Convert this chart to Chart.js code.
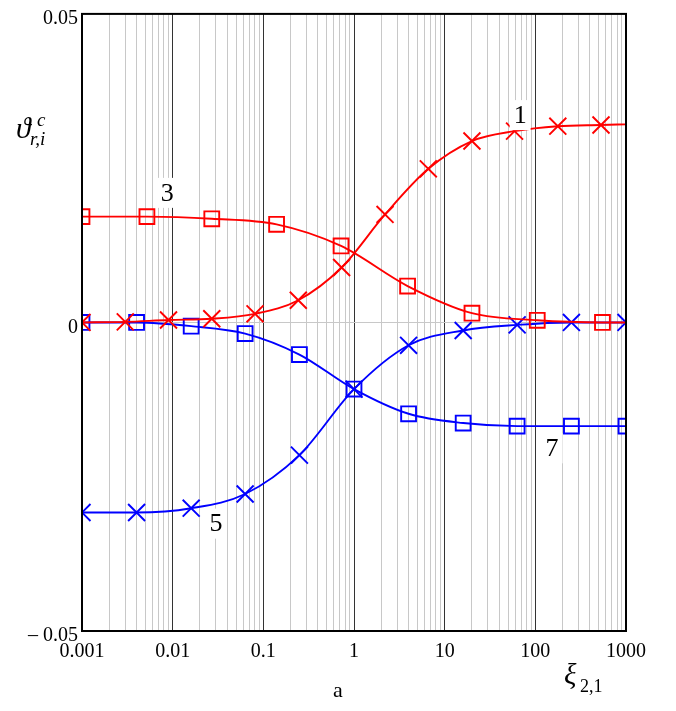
<!DOCTYPE html>
<html><head><meta charset="utf-8">
<script src="https://cdn.jsdelivr.net/npm/chart.js@4.4.0/dist/chart.umd.min.js"></script>
<style>html,body{margin:0;padding:0;background:#fff;}#wrap{width:676px;height:711px;position:relative;}</style>
</head><body><div id="wrap"><canvas id="c" width="676" height="711"></canvas></div>
<script>
// ---- data ----
const xTickValues = [0.001, 0.01, 0.1, 1, 10, 100, 1000];
const xTickLabels = ['0.001', '0.01', '0.1', '1', '10', '100', '1000'];
const yTickValues = [-0.05, 0, 0.05];
const yTickLabels = ['\u2013 0.05', '0', '0.05'];

// curve 1 (red, crosses)
const c1X = [0.001, 0.003, 0.009, 0.027, 0.081, 0.243, 0.73, 2.2, 6.6, 20, 59, 177, 530, 1000];
const c1Y = [0, 0.0001, 0.0004, 0.0006, 0.0014, 0.0036, 0.0089, 0.0175, 0.0249, 0.0294, 0.0310, 0.0318, 0.0320, 0.0321];
// curve 3 (red, squares)
const c3X = [0.001, 0.0052, 0.027, 0.14, 0.72, 3.9, 20, 105, 550, 1000];
const c3Y = [0.01715, 0.01715, 0.0168, 0.0159, 0.0124, 0.0059, 0.0015, 0.00035, 0, 0];
// curve 5 (blue, crosses)
const c5X = [0.001, 0.004, 0.016, 0.063, 0.25, 1, 4, 16, 63, 250, 1000];
const c5Y = [-0.0308, -0.0308, -0.0301, -0.0278, -0.0215, -0.0108, -0.0037, -0.0013, -0.0004, 0, 0];
// curve 7 (blue, squares)
const c7X = [0.001, 0.004, 0.016, 0.063, 0.25, 1, 4, 16, 63, 250, 1000];
const c7Y = [0, 0, -0.0006, -0.0018, -0.0052, -0.0108, -0.0148, -0.0163, -0.0168, -0.0168, -0.0168];

const curveLabelTexts = ['1', '3', '5', '7'];
const curveLabelX = [68, 0.0087, 0.030, 153];
const curveLabelY = [0.0336, 0.0210, -0.0326, -0.0204];

// ---- build ----
const pts = (xs, ys) => xs.map((x, i) => ({x: x, y: ys[i]}));
const RED = '#ff0000', BLUE = '#0000ff';
function ds(xs, ys, color, style, r, lastUnmarked) {
  return {
    data: pts(xs, ys),
    borderColor: color,
    borderWidth: 1.9,
    pointStyle: style,
    pointRadius: ctx => (lastUnmarked && ctx.dataIndex === xs.length - 1) ? 0 : r,
    pointHoverRadius: 0,
    pointBorderColor: color,
    pointBackgroundColor: 'rgba(0,0,0,0)',
    pointBorderWidth: 1.9,
    cubicInterpolationMode: 'monotone',
    fill: false
  };
}
const near = (a, b) => Math.abs(a - b) <= Math.abs(b) * 1e-6 + 1e-12;

const framePlugin = {
  id: 'frame',
  afterDatasetsDraw(chart) {
    const {ctx, chartArea: a, scales} = chart;
    ctx.save();
    // curve labels
    ctx.font = '26px "Liberation Serif"';
    ctx.textAlign = 'center';
    ctx.textBaseline = 'middle';
    curveLabelTexts.forEach((t, i) => {
      const px = scales.x.getPixelForValue(curveLabelX[i]);
      const py = scales.y.getPixelForValue(curveLabelY[i]);
      const w = ctx.measureText(t).width + 8;
      ctx.fillStyle = '#fff';
      ctx.fillRect(px - w / 2, py - 15, w, 30);
      ctx.fillStyle = '#000';
      ctx.fillText(t, px, py + 1);
    });
    // frame
    ctx.strokeStyle = '#000';
    ctx.lineWidth = 2;
    ctx.strokeRect(a.left, a.top, a.right - a.left, a.bottom - a.top);
    ctx.restore();
  },
  afterDraw(chart) {
    const ctx = chart.ctx;
    ctx.save();
    ctx.fillStyle = '#000';
    ctx.textAlign = 'left';
    ctx.textBaseline = 'alphabetic';
    // y axis title
    ctx.font = 'italic 30px "Liberation Serif"';
    ctx.fillText('\u03D1', 16, 138);
    ctx.font = 'italic 19px "Liberation Serif"';
    ctx.fillText('c', 37, 126);
    ctx.fillText('r,i', 30, 145);
    // x axis title
    ctx.font = 'italic 29px "Liberation Serif"';
    ctx.fillText('\u03BE', 564, 684);
    ctx.font = '18px "Liberation Serif"';
    ctx.fillText('2,1', 580, 692);
    // caption
    ctx.font = '22px "Liberation Serif"';
    ctx.textAlign = 'center';
    ctx.fillText('a', 338, 697);
    ctx.restore();
  }
};

new Chart(document.getElementById('c'), {
  type: 'line',
  data: {
    datasets: [
      ds(c1X, c1Y, RED, 'crossRot', 12, true),
      ds(c3X, c3Y, RED, 'rect', 10.5, true),
      ds(c5X, c5Y, BLUE, 'crossRot', 12, false),
      ds(c7X, c7Y, BLUE, 'rect', 10.5, false)
    ]
  },
  options: {
    responsive: false,
    animation: false,
    events: [],
    layout: {padding: {left: 0, right: 50, top: 10, bottom: 0}},
    plugins: {legend: {display: false}, tooltip: {enabled: false}},
    scales: {
      x: {
        type: 'logarithmic',
        min: xTickValues[0],
        max: xTickValues[xTickValues.length - 1],
        afterBuildTicks: s => {
          const t = [];
          xTickValues.forEach((d, i) => {
            t.push({value: d, major: true});
            if (i < xTickValues.length - 1) {
              for (let m = 2; m <= 9; m++) t.push({value: +(d * m).toPrecision(6), major: false});
            }
          });
          s.ticks = t;
        },
        afterFit: s => { s.height = 80; s.paddingLeft = 0; s.paddingRight = 0; },
        border: {display: false},
        grid: {
          drawTicks: false,
          lineWidth: 1,
          color: c => (c.tick && xTickValues.some(d => near(c.tick.value, d))) ? '#333333' : '#c8c8c8'
        },
        ticks: {
          autoSkip: false, maxRotation: 0, minRotation: 0, padding: 9,
          color: '#000',
          font: {family: 'Liberation Serif', size: 20},
          callback: v => { const i = xTickValues.findIndex(d => near(v, d)); return i >= 0 ? xTickLabels[i] : ''; }
        }
      },
      y: {
        type: 'linear',
        min: yTickValues[0],
        max: yTickValues[yTickValues.length - 1],
        afterBuildTicks: s => { s.ticks = yTickValues.map(v => ({value: v})); },
        afterFit: s => { s.width = 82; s.paddingTop = 0; s.paddingBottom = 0; },
        border: {display: false},
        grid: {
          drawTicks: false,
          lineWidth: 1,
          color: c => (c.tick && c.tick.value === 0) ? '#c8c8c8' : 'rgba(0,0,0,0)'
        },
        ticks: {
          padding: 4, labelOffset: 5,
          color: '#000',
          font: {family: 'Liberation Serif', size: 20},
          callback: v => { const i = yTickValues.findIndex(d => near(v, d)); return i >= 0 ? yTickLabels[i] : ''; }
        }
      }
    }
  },
  plugins: [framePlugin]
});
</script>
</body></html>
